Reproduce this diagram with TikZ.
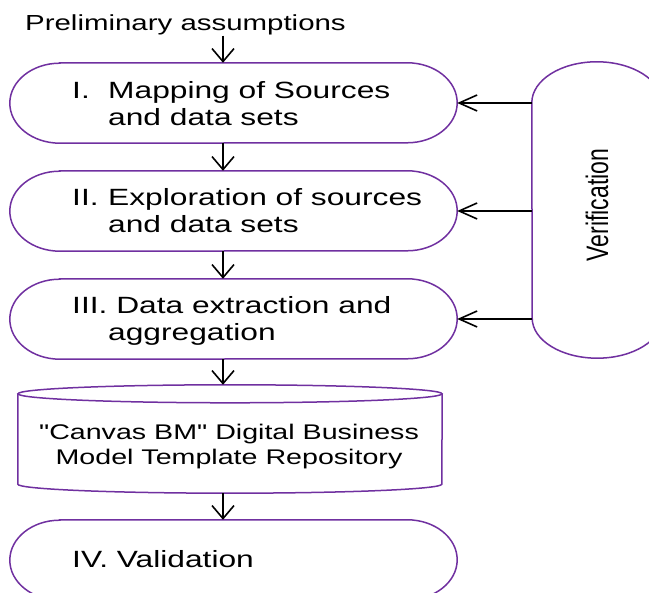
\documentclass[tikz,border=0pt]{standalone}
\usepackage{fontspec}
\usepackage{graphicx}
\setmainfont[FakeStretch=1.35]{Liberation Sans}
\newfontfamily\plainsans{Liberation Sans}
\newfontfamily\cylfont[FakeStretch=1.35]{Liberation Sans}
\usetikzlibrary{arrows.meta}
\definecolor{vio}{RGB}{112,48,160}
\newcommand\stadium[1]{\draw[outl] ([xshift=50pt]#1.north west) -- ([xshift=-50pt]#1.north east) arc[start angle=90,end angle=-90,x radius=50pt,y radius=40pt] -- ([xshift=50pt]#1.south west) arc[start angle=270,end angle=90,x radius=50pt,y radius=40pt] -- cycle;}
\begin{document}
\begin{tikzpicture}[x=1pt,y=1pt,
  outl/.style={draw=vio, line width=1.5pt},
  box/.style={draw=none, inner sep=0, minimum width=447pt, minimum height=80pt},
  txt/.style={inner sep=0, anchor=base west, font=\fontsize{23.5}{27}\selectfont},
  varr/.style={draw=black, line width=1.6pt, -{Straight Barb[length=13pt,width=22pt,line width=1.6pt]}},
  harr/.style={draw=black, line width=1.6pt, -{Straight Barb[length=18pt,width=16pt,line width=1.6pt]}}]
\clip (0,0) rectangle (649,593);
\fill[white] (0,0) rectangle (649,593);
\coordinate (ax) at (223,0);
% nodes
\node[inner sep=0, anchor=base west, font=\fontsize{21.8}{25}\selectfont] (pre) at (25,562) {Preliminary assumptions};
\node[box] (b1) at (233.5,490) {};
\node[box] (b2) at (233.5,382) {};
\node[box] (b3) at (233.5,274) {};
\node[box, minimum width=424pt, minimum height=108pt] (cyl) at (230,154) {};
\node[box] (b4) at (233.5,33) {};
\node[box, minimum width=130pt, minimum height=296pt] (ver) at (597,383) {};
% shapes
\stadium{b1}
\stadium{b2}
\stadium{b3}
\stadium{b4}
\draw[outl] ([yshift=-41pt]ver.north west) arc[start angle=180,end angle=0,x radius=65pt,y radius=41pt] -- ([yshift=40pt]ver.south east) arc[start angle=0,end angle=-180,x radius=65pt,y radius=40pt] -- cycle;
\draw[outl] ([yshift=-9pt]cyl.north west) -- ([yshift=9pt]cyl.south west) arc[start angle=180,end angle=360,x radius=212pt,y radius=9pt] -- ([yshift=-9pt]cyl.north east);
\draw[outl] ([yshift=-9pt]cyl.north) ellipse[x radius=212pt,y radius=9pt];
% texts
\node[txt] (t1) at (72,494.5) {\begin{tabular}[t]{@{}l@{}}\makebox[36pt][l]{I.}Mapping of Sources\\\hspace*{36pt}and data sets\end{tabular}};
\node[txt] (t2) at (72,387) {\begin{tabular}[t]{@{}l@{}}\makebox[36pt][l]{II.}Exploration of sources\\\hspace*{36pt}and data sets\end{tabular}};
\node[txt] (t3) at (72,279) {\begin{tabular}[t]{@{}l@{}}III. Data extraction and\\\hspace*{36pt}aggregation\end{tabular}};
\node[txt] (t4) at (72,25) {IV. Validation};
\node[inner sep=0, anchor=base, font=\cylfont\fontsize{21.2}{25}\selectfont] (tc) at (229,153) {\begin{tabular}[t]{@{}c@{}}"Canvas BM" Digital Business\\Model Template Repository\end{tabular}};
\node[inner sep=0, font=\plainsans\fontsize{23}{27}\selectfont] (tv) at (597,388) {\scalebox{1.35}[1]{\rotatebox{90}{Verification}}};
% connectors
\draw[varr] (pre.south -| ax) -- (b1.north -| ax);
\draw[varr] (b1.south -| ax) -- (b2.north -| ax);
\draw[varr] (b2.south -| ax) -- (b3.north -| ax);
\draw[varr] (b3.south -| ax) -- (cyl.north -| ax);
\draw[varr] (cyl.south -| ax) -- (b4.north -| ax);
\draw[harr] (ver.west |- b1.east) -- (b1.east);
\draw[harr] (ver.west |- b2.east) -- (b2.east);
\draw[harr] (ver.west |- b3.east) -- (b3.east);
\end{tikzpicture}
\end{document}
